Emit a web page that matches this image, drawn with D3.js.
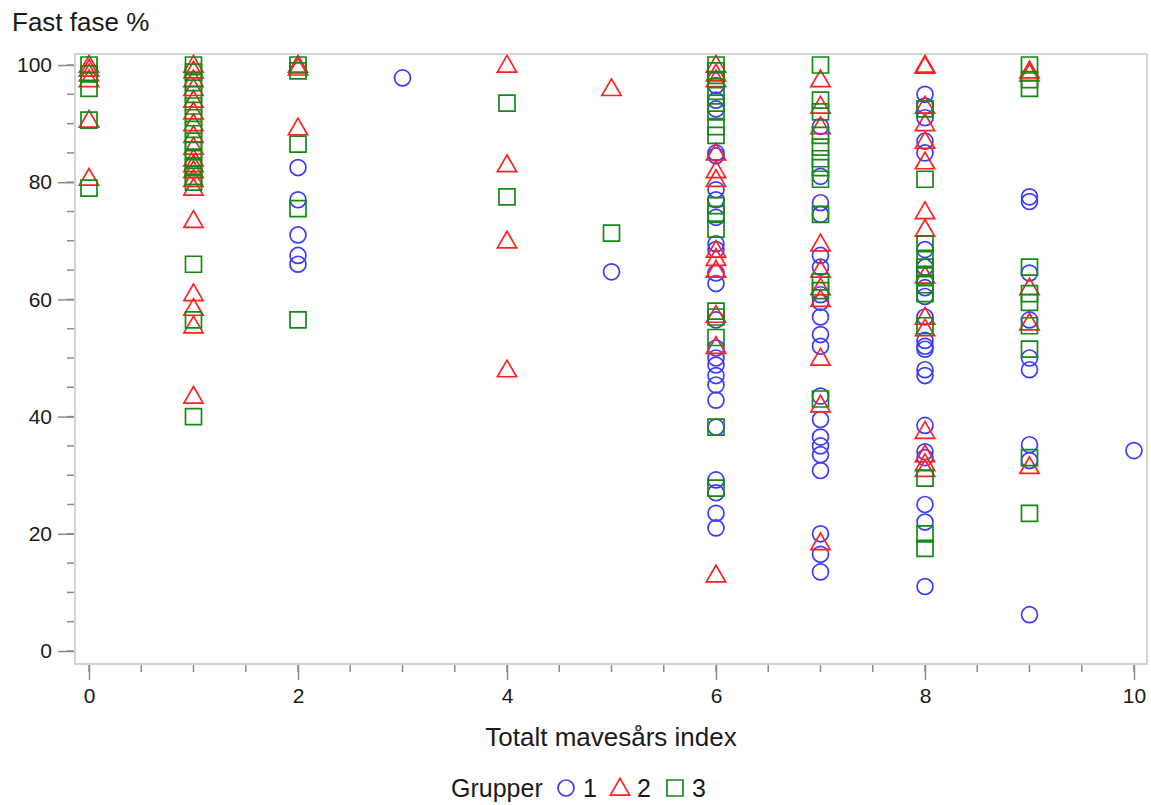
<!DOCTYPE html>
<html>
<head>
<meta charset="utf-8">
<script src="https://cdn.jsdelivr.net/npm/d3@7"></script>
<style>
  body { margin: 0; background: #fff; }
  svg { display: block; font-family: "Liberation Sans", Arial, sans-serif; }
</style>
</head>
<body>
<svg width="1151" height="805"></svg>
<script>
// [x, fast fase %] per group
const gruppe1 = [
  [2, 82.5], [2, 77], [2, 71], [2, 67.5], [2, 66],
  [3, 97.8],
  [5, 64.7],
  [6, 96.5], [6, 94], [6, 92.5], [6, 85], [6, 84.5], [6, 78.7], [6, 77], [6, 74], [6, 69.5], [6, 68.5],
  [6, 64.5], [6, 62.7], [6, 56.5], [6, 51.7], [6, 50], [6, 48.8], [6, 47], [6, 45.4], [6, 42.8], [6, 38.2],
  [6, 29.2], [6, 27], [6, 23.5], [6, 21],
  [7, 89.5], [7, 81], [7, 76.5], [7, 74.5], [7, 67.5], [7, 65.5], [7, 60.8], [7, 59.5], [7, 57], [7, 54],
  [7, 52], [7, 43.5], [7, 39.5], [7, 36.5], [7, 35], [7, 33.5], [7, 30.8], [7, 20], [7, 16.5], [7, 13.5],
  [8, 95], [8, 93], [8, 91], [8, 87], [8, 85], [8, 68.5], [8, 65.5], [8, 62], [8, 60.5], [8, 57], [8, 53],
  [8, 52], [8, 51.5], [8, 48], [8, 47], [8, 38.5], [8, 34], [8, 33], [8, 25], [8, 22], [8, 11],
  [9, 77.5], [9, 76.7], [9, 64.5], [9, 56.5], [9, 50], [9, 48], [9, 35.2], [9, 32.5], [9, 6.2],
  [10, 34.2]
];

const gruppe2 = [
  [0, 100], [0, 99.3], [0, 98.5], [0, 97.5], [0, 90.6], [0, 80.7],
  [1, 100], [1, 99], [1, 97.5], [1, 96], [1, 94], [1, 92], [1, 90], [1, 88], [1, 86], [1, 84], [1, 83],
  [1, 82], [1, 80.5], [1, 79], [1, 73.5], [1, 61], [1, 58.5], [1, 55.5], [1, 43.5],
  [2, 100], [2, 99.5], [2, 89.3],
  [4, 100], [4, 83], [4, 70], [4, 48],
  [5, 96],
  [6, 100], [6, 98.5], [6, 97.5], [6, 85], [6, 82], [6, 80.5], [6, 68.4], [6, 67], [6, 65], [6, 57.3],
  [6, 52], [6, 13],
  [7, 97.5], [7, 93], [7, 89.5], [7, 69.5], [7, 65], [7, 62], [7, 60], [7, 50], [7, 42], [7, 18.5],
  [8, 100], [8, 99.8], [8, 93], [8, 90], [8, 87], [8, 83.5], [8, 75], [8, 72], [8, 64], [8, 57], [8, 55],
  [8, 37.5], [8, 33.5], [8, 32], [8, 31],
  [9, 99], [9, 98.5], [9, 62], [9, 56], [9, 31.5]
];

const gruppe3 = [
  [0, 100], [0, 98.5], [0, 96], [0, 90.6], [0, 79],
  [1, 100], [1, 98.8], [1, 97], [1, 95], [1, 93], [1, 91], [1, 89], [1, 87], [1, 85.5], [1, 84], [1, 82.5],
  [1, 81], [1, 80], [1, 66], [1, 56.5], [1, 40],
  [2, 100], [2, 99], [2, 86.5], [2, 75.5], [2, 56.5],
  [4, 93.5], [4, 77.5],
  [5, 71.3],
  [6, 100], [6, 99], [6, 97.5], [6, 95.5], [6, 93.5], [6, 92], [6, 89.5], [6, 88], [6, 76], [6, 74.5],
  [6, 72], [6, 58], [6, 57], [6, 53.5], [6, 38.2], [6, 27.8],
  [7, 100], [7, 94], [7, 92], [7, 88], [7, 86], [7, 84], [7, 82.5], [7, 80.5], [7, 74.5], [7, 63], [7, 61.5], [7, 43],
  [8, 92.5], [8, 80.5], [8, 69.5], [8, 67], [8, 65.5], [8, 64], [8, 62.5], [8, 61], [8, 55.5], [8, 29.5],
  [8, 20], [8, 17.5],
  [9, 100], [9, 97.5], [9, 96], [9, 65.5], [9, 61], [9, 59.5], [9, 55.5], [9, 51.5], [9, 33], [9, 23.5]
];

const xTicks = [0, 2, 4, 6, 8, 10];
const yTicks = [0, 20, 40, 60, 80, 100];
const groupNames = ['1', '2', '3'];

const groups = [
  { name: groupNames[0], data: gruppe1, color: '#3b3bff', symbol: d3.symbolCircle },
  { name: groupNames[1], data: gruppe2, color: '#ff2020', symbol: d3.symbolTriangle },
  { name: groupNames[2], data: gruppe3, color: '#138a13', symbol: d3.symbolSquare }
];

draw();

function draw() {
  var svg = d3.select('svg');
  var frame = { left: 75, top: 54, right: 1147, bottom: 664 };

  var x = d3.scaleLinear().domain([0, 10]).range([89, 1134]);
  var y = d3.scaleLinear().domain([0, 100]).range([651, 65]);

  // wall
  svg.append('rect')
    .attr('x', frame.left).attr('y', frame.top)
    .attr('width', frame.right - frame.left).attr('height', frame.bottom - frame.top)
    .attr('fill', 'none').attr('stroke', '#d4d4d4').attr('stroke-width', 2);

  // y axis
  var yMinor = d3.range(0, 101, 5);
  svg.append('g').attr('class', 'ytick-minor')
    .selectAll('line').data(yMinor).enter().append('line')
    .attr('x1', frame.left - 8).attr('x2', frame.left - 1)
    .attr('y1', d => y(d)).attr('y2', d => y(d))
    .attr('stroke', '#8c8c8c').attr('stroke-width', 1.5);

  var yAxis = svg.append('g')
    .attr('transform', `translate(${frame.left - 1},0)`)
    .call(d3.axisLeft(y).tickValues(yTicks).tickSize(16).tickPadding(6));
  yAxis.select('.domain').remove();
  yAxis.selectAll('.tick line').attr('stroke', '#8c8c8c').attr('stroke-width', 1.5);
  yAxis.selectAll('.tick text')
    .attr('font-size', 21).attr('fill', '#1a1a1a')
    .style('font-family', '"Liberation Sans", Arial, sans-serif');

  // x axis
  var xMinor = d3.range(0, 10.01, 0.5);
  svg.append('g').attr('class', 'xtick-minor')
    .selectAll('line').data(xMinor).enter().append('line')
    .attr('x1', d => x(d)).attr('x2', d => x(d))
    .attr('y1', frame.bottom + 1).attr('y2', frame.bottom + 8)
    .attr('stroke', '#8c8c8c').attr('stroke-width', 1.5);

  var xAxis = svg.append('g')
    .attr('transform', `translate(0,${frame.bottom + 1})`)
    .call(d3.axisBottom(x).tickValues(xTicks).tickSize(15).tickPadding(8));
  xAxis.select('.domain').remove();
  xAxis.selectAll('.tick line').attr('stroke', '#8c8c8c').attr('stroke-width', 1.5);
  xAxis.selectAll('.tick text')
    .attr('font-size', 21).attr('fill', '#1a1a1a')
    .style('font-family', '"Liberation Sans", Arial, sans-serif');

  // titles
  svg.append('text')
    .attr('x', 12).attr('y', 31)
    .attr('font-size', 26).attr('fill', '#1a1a1a')
    .text('Fast fase %');

  svg.append('text')
    .attr('x', 611).attr('y', 746)
    .attr('text-anchor', 'middle')
    .attr('font-size', 26).attr('fill', '#1a1a1a')
    .text('Totalt mavesårs index');

  // markers
  var sizes = { '1': 200, '2': 160, '3': 256 };
  groups.forEach(g => {
    var sym = d3.symbol().type(g.symbol).size(sizes[g.name]);
    svg.append('g').attr('class', 'gruppe-' + g.name)
      .selectAll('path').data(g.data).enter().append('path')
      .attr('d', sym)
      .attr('transform', d => {
        var dy = g.symbol === d3.symbolTriangle ? 1.5 : 0;
        return `translate(${x(d[0])},${y(d[1]) + dy})`;
      })
      .attr('fill', 'none')
      .attr('stroke', g.color)
      .attr('stroke-width', 1.7);
  });

  // legend
  var legend = svg.append('g').attr('class', 'legend');
  var ly = 788;
  legend.append('text')
    .attr('x', 451).attr('y', ly + 9)
    .attr('font-size', 25).attr('fill', '#1a1a1a')
    .text('Grupper');
  var lx = [566, 620, 675];
  groups.forEach((g, i) => {
    var sym = d3.symbol().type(g.symbol).size(sizes[g.name]);
    legend.append('path')
      .attr('d', sym)
      .attr('transform', `translate(${lx[i]},${ly + (g.symbol === d3.symbolTriangle ? 1.5 : 0)})`)
      .attr('fill', 'none').attr('stroke', g.color).attr('stroke-width', 1.7);
    legend.append('text')
      .attr('x', lx[i] + 17).attr('y', ly + 9)
      .attr('font-size', 25).attr('fill', '#1a1a1a')
      .text(g.name);
  });
}
</script>
</body>
</html>
